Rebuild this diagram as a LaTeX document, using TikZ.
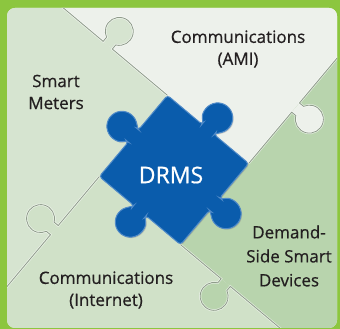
\documentclass[tikz,border=0pt]{standalone}
\usepackage{fontspec}
\setmainfont{Open Sans}[FakeBold=0.6]
\usetikzlibrary{shadows}

\definecolor{frame}{HTML}{8CC63F}
\definecolor{topc}{HTML}{EDF1EB}
\definecolor{leftc}{HTML}{D6E4D0}
\definecolor{bottomc}{HTML}{D0E1C8}
\definecolor{rightc}{HTML}{B8D4AD}
\definecolor{seamc}{HTML}{8F9C8B}
\definecolor{drmsblue}{HTML}{0A5CAC}
\definecolor{drmsrim}{HTML}{4F8AC8}
\definecolor{ink}{HTML}{231F20}

\begin{document}
\begin{tikzpicture}[x=1pt,y=1pt,
    seam/.style={draw=seamc,line width=.8pt,
      preaction={draw=white,line width=2.2pt,draw opacity=.6}},
    piece/.style={fill=drmsblue,draw=drmsrim,line width=1pt,
      drop shadow={shadow xshift=1pt,shadow yshift=-1pt,opacity=.35}},
    label/.style={align=center,text=ink,font=\fontsize{17}{22}\selectfont},
  ]
  % green frame and panel
  \fill[frame] (0,0) rectangle (340,329);
  \fill[topc,rounded corners=8] (7,1) rectangle (337,321);
  \begin{scope}
    \clip[rounded corners=8] (7,1) rectangle (337,321);
    \begin{scope}[shift={(174,159)},rotate=-40]
      % four background pieces
      \fill[topc] (-400,53) -- (53,53) -- (53,400) -- (-400,400) -- cycle;
      \fill[rightc] (53,-53) -- (400,-53) -- (400,400) -- (53,400) -- cycle;
      \fill[bottomc] (-53,-53) -- (-53,-400) -- (400,-400) -- (400,-53) -- cycle;
      \fill[leftc] (-400,-400) -- (-53,-400) -- (-53,53) -- (-400,53) -- cycle;
      % knobs of the background pieces
      \fill[leftc] (-125,53) -- (-125,58.35) arc[start angle=-64.6,end angle=244.6,radius=14] -- (-137,53) -- cycle;
      \fill[topc] (53,120) -- (58.35,120) arc[start angle=-154.6,end angle=154.6,radius=14] -- (53,132) -- cycle;
      \fill[bottomc] (-53,-117) -- (-58.35,-117) arc[start angle=25.4,end angle=334.6,radius=14] -- (-53,-129) -- cycle;
      \fill[rightc] (106,-53) -- (106,-58.35) arc[start angle=115.4,end angle=424.6,radius=14] -- (118,-53) -- cycle;
      % seams
      \draw[seam] (-53,53) -- (-125,53) -- (-125,58.35) arc[start angle=-64.6,end angle=244.6,radius=14] -- (-137,53) -- (-400,53);
      \draw[seam] (53,53) -- (53,120) -- (58.35,120) arc[start angle=-154.6,end angle=154.6,radius=14] -- (53,132) -- (53,400);
      \draw[seam] (-53,-53) -- (-53,-117) -- (-58.35,-117) arc[start angle=25.4,end angle=334.6,radius=14] -- (-53,-129) -- (-53,-400);
      \draw[seam] (53,-53) -- (106,-53) -- (106,-58.35) arc[start angle=115.4,end angle=424.6,radius=14] -- (118,-53) -- (400,-53);
      % DRMS piece
      \path[piece,rounded corners=3] (-53,53) -- (-8,53) -- (-8,55.31) arc[start angle=237.8,end angle=-57.8,radius=15] -- (8,53)
        -- (53,53) -- (53,8) -- (55.31,8) arc[start angle=147.8,end angle=-147.8,radius=15] -- (53,-8)
        -- (53,-53) -- (8,-53) -- (8,-55.31) arc[start angle=57.8,end angle=-237.8,radius=15] -- (-8,-53)
        -- (-53,-53) -- (-53,-8) -- (-55.31,-8) arc[start angle=-32.2,end angle=-327.8,radius=15] -- (-53,8) -- cycle;
    \end{scope}
  \end{scope}
  % labels
  \node[label] (ami) at (238,280) {Communications\\(AMI)};
  \node[label] (smart) at (56,237) {Smart\\Meters};
  \node[text=white,font=\fontsize{23}{26}\selectfont] (drms) at (171,154) {DRMS};
  \node[label,font=\fontsize{17}{24}\selectfont] (demand) at (289,73) {Demand-\\Side Smart\\Devices};
  \node[label] (internet) at (106,39) {Communications\\(Internet)};
\end{tikzpicture}
\end{document}
